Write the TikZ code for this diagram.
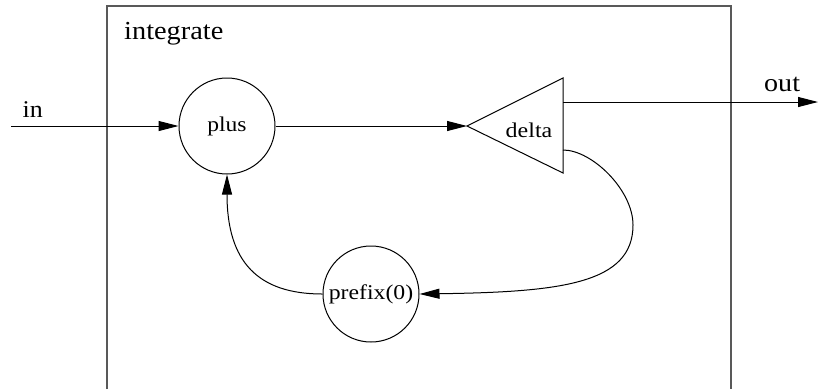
\documentclass[tikz,border=0pt]{standalone}
\usepackage{fontspec}
\usepackage{graphicx}
\setmainfont{Liberation Serif}
\usetikzlibrary{arrows.meta}
\newcommand{\wtxt}[2]{\scalebox{#1}[1]{#2}}
\begin{document}
\begin{tikzpicture}[x=1pt,y=-1pt,
  conn/.style={line width=1pt, -{Triangle[length=20pt,width=10pt]}},
  proc/.style={circle, draw, line width=1pt, minimum size=96pt, inner sep=0pt, font=\fontsize{21}{24}\selectfont},
  lbl/.style={font=\fontsize{25}{28}\selectfont, inner sep=0pt},
  frame/.style={line width=1.3pt, black!65}]
\useasboundingbox (0,0) rectangle (818,389);
% box
\coordinate (bl) at (107,389);
\coordinate (tl) at (107,6);
\coordinate (tr) at (731,6);
\coordinate (br) at (731,389);
\draw[frame] (bl) -- (tl) -- (tr) -- (br);
\node[lbl, font=\fontsize{26}{28}\selectfont, anchor=base west] (title) at (124,39) {\wtxt{1.09}{integrate}};
% nodes
\node[proc] (plus) at (227,126) {\raisebox{-5pt}{\wtxt{1.12}{plus}}};
\node[proc] (prefix) at (371,294) {\raisebox{-3pt}{\wtxt{1.13}{prefix(0)}}};
\coordinate (dA) at (467,126);
\coordinate (dT) at (563,78);
\coordinate (dB) at (563,173);
\draw[line width=1pt] (dA) -- (dT) -- (dB) -- cycle;
\node[font=\fontsize{21}{24}\selectfont, inner sep=0pt] (delta) at (529,130) {\wtxt{1.14}{delta}};
\coordinate (dOut) at (563,102);
\coordinate (dFb) at (563,150);
% labels
\node[lbl, font=\fontsize{24}{26}\selectfont, anchor=base west] (inlbl) at (22.5,117) {\wtxt{1.08}{in}};
\node[lbl, font=\fontsize{25.5}{28}\selectfont, anchor=base west] (outlbl) at (764,91) {\wtxt{1.1}{out}};
% connectors
\coordinate (inStart) at (11,126);
\coordinate (outEnd) at (818,102);
\draw[conn] (inStart) -- (plus.west);
\draw[conn] (plus.east) -- (dA);
\draw[conn] (dOut) -- (outEnd);
\draw[conn] (dFb) .. controls (592,150) and (633,190) .. (633,225) .. controls (633,284) and (560,292) .. (prefix.east);
\draw[conn] (prefix.west) .. controls (258,294) and (227,262) .. (plus.south);
\end{tikzpicture}
\end{document}
